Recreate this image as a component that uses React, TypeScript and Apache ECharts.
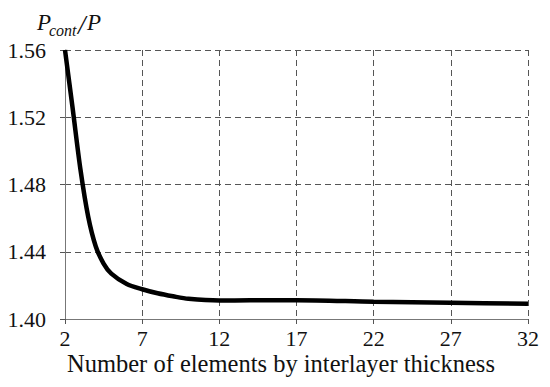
import React, { useEffect, useRef } from "react";
import * as echarts from "echarts";

const xValues = [2, 2.5, 3, 3.5, 4, 4.5, 5, 6, 7, 8, 9, 10, 12, 14, 17, 22, 27, 32];
const yValues = [1.56, 1.525, 1.489, 1.461, 1.443, 1.433, 1.427, 1.4208, 1.4177, 1.4153, 1.4135, 1.412, 1.411, 1.4111, 1.4112, 1.4103, 1.4097, 1.409];
const xTitle = "Number of elements by interlayer thickness";

const FONT = "Liberation Serif";
const INK = "#111";

export default function App() {
  const ref = useRef<HTMLDivElement>(null);
  useEffect(() => {
    const chart = echarts.init(ref.current!, null, { renderer: "svg" });
    const it = (text: string, x: number, y: number, size: number) => ({
      type: "text",
      x,
      y,
      style: { text, fontFamily: FONT, fontStyle: "italic", fontSize: size, fill: INK, verticalAlign: "middle", align: "left" },
    });
    chart.setOption({
      animation: false,
      backgroundColor: "#fff",
      grid: { left: 65, right: 22, top: 50, bottom: 68 },
      graphic: [
        it("P", 37, 22, 23),
        it("cont", 49, 30, 16),
        it("/", 78, 25, 27),
        it("P", 87, 22, 23),
        {
          type: "text",
          left: 67,
          top: 351,
          style: { text: xTitle, fontFamily: FONT, fontSize: 24.5, fill: INK },
        },
      ],
      xAxis: {
        type: "value",
        min: 2,
        max: 32,
        interval: 5,
        axisLine: { show: true, lineStyle: { color: "#777", width: 1 } },
        axisTick: { show: true, length: 5, lineStyle: { color: "#555" } },
        axisLabel: { fontFamily: FONT, fontSize: 22, color: INK, margin: 8 },
        splitLine: { show: true, lineStyle: { type: [6, 4], color: "#555", width: 1 } },
      },
      yAxis: {
        type: "value",
        min: 1.4,
        max: 1.56,
        interval: 0.04,
        axisLine: { show: true, lineStyle: { color: "#777", width: 1 } },
        axisTick: { show: true, length: 5, lineStyle: { color: "#555" } },
        axisLabel: {
          fontFamily: FONT,
          fontSize: 22,
          color: INK,
          margin: 19,
          formatter: (v: number) => v.toFixed(2),
        },
        splitLine: { show: true, lineStyle: { type: [6, 4], color: "#555", width: 1 } },
      },
      series: [
        {
          type: "line",
          data: xValues.map((x, i) => [x, yValues[i]]),
          smooth: 0.3,
          showSymbol: false,
          lineStyle: { color: "#000", width: 4.5 },
        },
      ],
    });
    return () => chart.dispose();
  }, []);
  return <div ref={ref} style={{ width: 550, height: 387, position: "absolute", left: 0, top: 0 }} />;
}
